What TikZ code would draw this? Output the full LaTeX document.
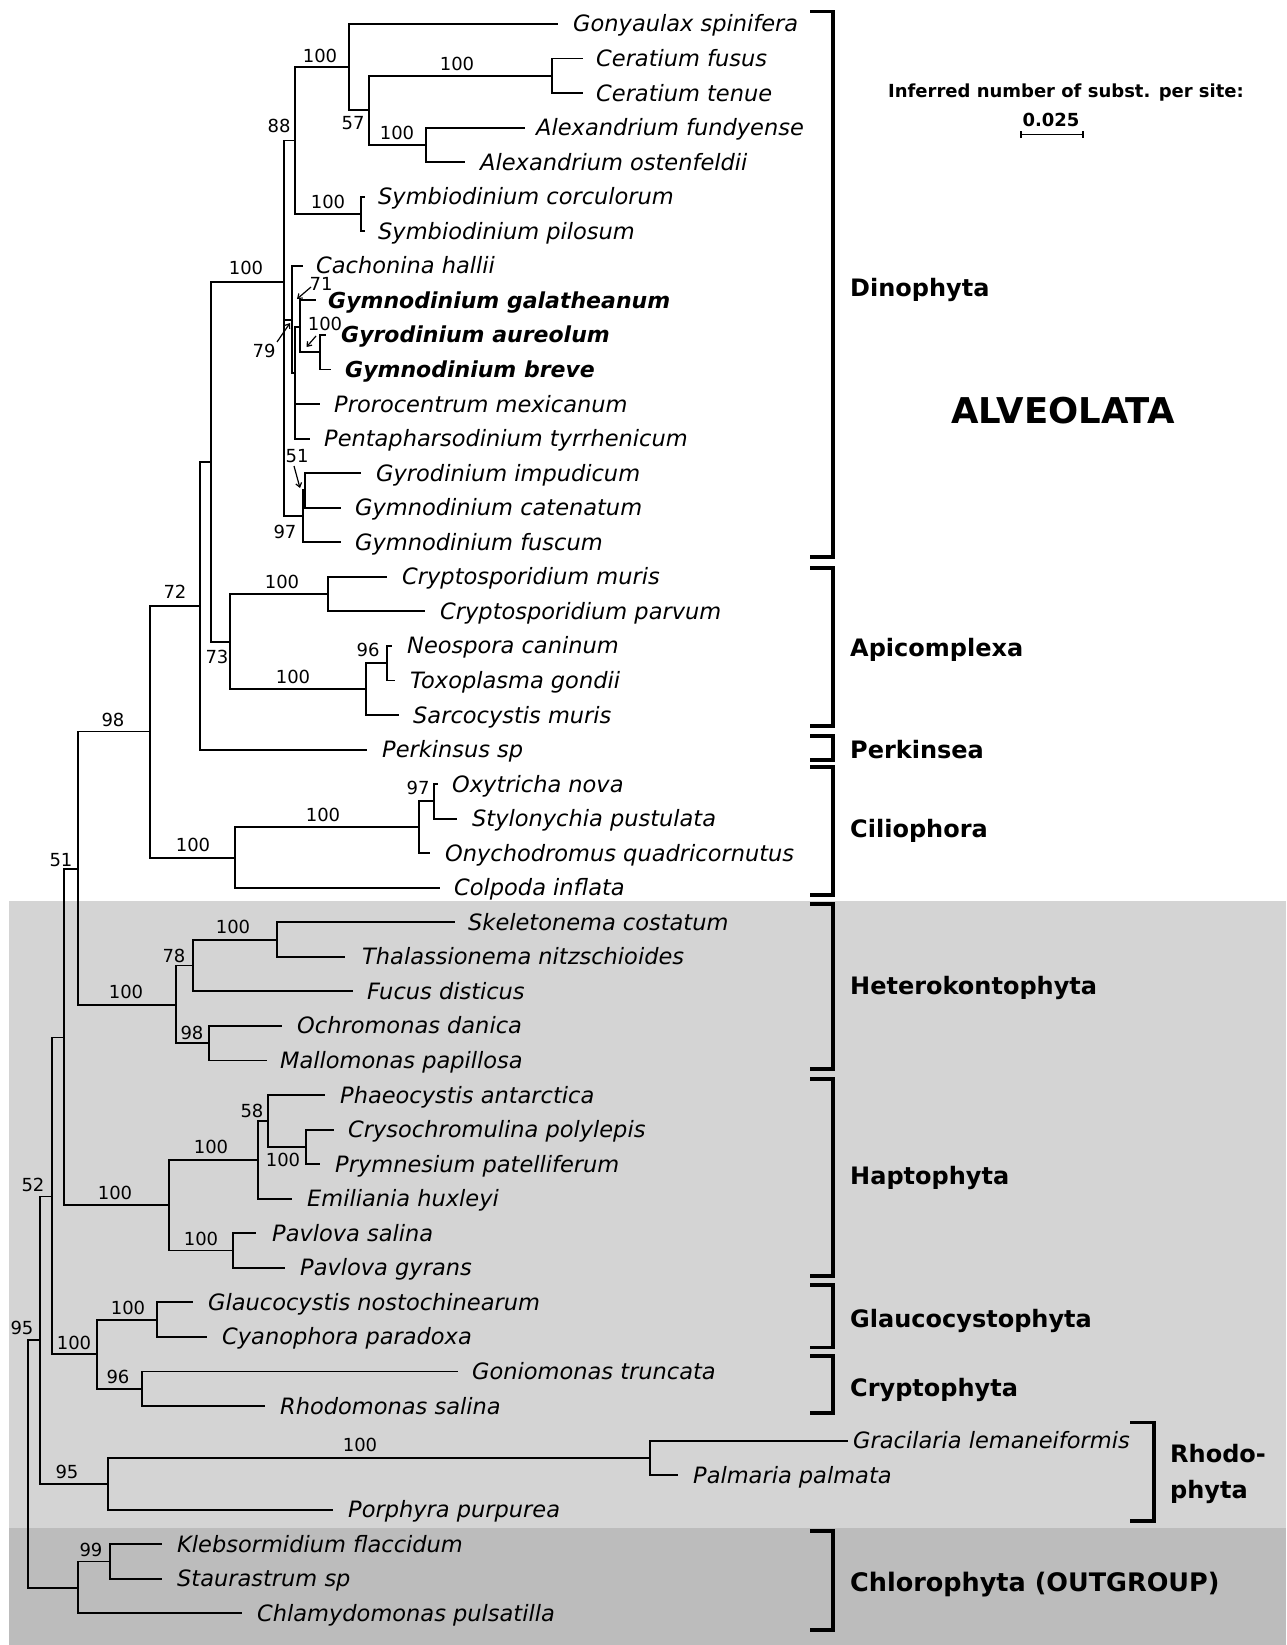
\documentclass[tikz,border=0pt]{standalone}
\usepackage{fontspec}
\usetikzlibrary{arrows.meta}
\newfontfamily\dv{DejaVu Sans}
\definecolor{lightg}{RGB}{212,212,212}
\definecolor{darkg}{RGB}{188,188,188}
\tikzset{
  br/.style={line width=1.9pt},
  brk/.style={line width=3.5pt},
  leaf/.style={font=\dv\itshape\fontsize{22.5}{26}\selectfont, inner sep=0pt, anchor=base west},
  bleaf/.style={font=\dv\bfseries\itshape\fontsize{22}{26}\selectfont, inner sep=0pt, anchor=base west},
  bs/.style={font=\dv\fontsize{18}{20}\selectfont, inner sep=0pt},
  grp/.style={font=\dv\bfseries\fontsize{24}{28}\selectfont, inner sep=0pt, anchor=base west},
  arr/.style={line width=1.2pt, -{Straight Barb[length=4pt,width=6pt,line width=1.2pt]}},
}
\newcommand{\myleaf}[6]{\coordinate (l#1) at (#2,#3); \node[#5] (t#1) at (#4,#3+8) {#6};}
\begin{document}
\begin{tikzpicture}[x=1pt,y=-1pt]
\useasboundingbox (0,0) rectangle (1286,1645);
\fill[white] (0,0) rectangle (1286,1645);
\fill[lightg] (9,901) rectangle (1286,1645);
\fill[darkg] (9,1528) rectangle (1286,1645);

% leaves: name, line end x, y, text x, style, text
\myleaf{0}{558}{24}{573}{leaf}{Gonyaulax spinifera}
\myleaf{1}{583}{58.55}{596}{leaf}{Ceratium fusus}
\myleaf{2}{583}{93.1}{596}{leaf}{Ceratium tenue}
\myleaf{3}{525}{127.65}{536}{leaf}{Alexandrium fundyense}
\myleaf{4}{465}{162.2}{480}{leaf}{Alexandrium ostenfeldii}
\myleaf{5}{365}{196.75}{378}{leaf}{Symbiodinium corculorum}
\myleaf{6}{365}{231.3}{378}{leaf}{Symbiodinium pilosum}
\myleaf{7}{303}{265.85}{316}{leaf}{Cachonina hallii}
\myleaf{8}{316}{300.4}{328}{bleaf}{Gymnodinium galatheanum}
\myleaf{9}{326}{334.95}{341}{bleaf}{Gyrodinium aureolum}
\myleaf{10}{331}{369.5}{345}{bleaf}{Gymnodinium breve}
\myleaf{11}{320}{404.05}{334}{leaf}{Prorocentrum mexicanum}
\myleaf{12}{310}{438.6}{324}{leaf}{Pentapharsodinium tyrrhenicum}
\myleaf{13}{361}{473.15}{376}{leaf}{Gyrodinium impudicum}
\myleaf{14}{341}{507.7}{355}{leaf}{Gymnodinium catenatum}
\myleaf{15}{341}{542.25}{355}{leaf}{Gymnodinium fuscum}
\myleaf{16}{387}{576.8}{402}{leaf}{Cryptosporidium muris}
\myleaf{17}{425}{611.35}{440}{leaf}{Cryptosporidium parvum}
\myleaf{18}{392}{645.9}{407}{leaf}{Neospora caninum}
\myleaf{19}{395}{680.45}{410}{leaf}{Toxoplasma gondii}
\myleaf{20}{399}{715}{413}{leaf}{Sarcocystis muris}
\myleaf{21}{367}{749.55}{382}{leaf}{Perkinsus sp}
\myleaf{22}{438}{784.1}{452}{leaf}{Oxytricha nova}
\myleaf{23}{457}{818.65}{472}{leaf}{Stylonychia pustulata}
\myleaf{24}{430}{853.2}{445}{leaf}{Onychodromus quadricornutus}
\myleaf{25}{440}{887.75}{454}{leaf}{Colpoda inflata}
\myleaf{26}{455}{922.3}{468}{leaf}{Skeletonema costatum}
\myleaf{27}{345}{956.85}{362}{leaf}{Thalassionema nitzschioides}
\myleaf{28}{353}{991.4}{367}{leaf}{Fucus disticus}
\myleaf{29}{282}{1025.95}{297}{leaf}{Ochromonas danica}
\myleaf{30}{267}{1060.5}{280}{leaf}{Mallomonas papillosa}
\myleaf{31}{325}{1095.05}{340}{leaf}{Phaeocystis antarctica}
\myleaf{32}{334}{1129.6}{348}{leaf}{Crysochromulina polylepis}
\myleaf{33}{320}{1164.15}{335}{leaf}{Prymnesium patelliferum}
\myleaf{34}{292}{1198.7}{307}{leaf}{Emiliania huxleyi}
\myleaf{35}{256}{1233.25}{272}{leaf}{Pavlova salina}
\myleaf{36}{285}{1267.8}{300}{leaf}{Pavlova gyrans}
\myleaf{37}{193}{1302.35}{208}{leaf}{Glaucocystis nostochinearum}
\myleaf{38}{207}{1336.9}{222}{leaf}{Cyanophora paradoxa}
\myleaf{39}{458}{1371.45}{472}{leaf}{Goniomonas truncata}
\myleaf{40}{265}{1406}{280}{leaf}{Rhodomonas salina}
\myleaf{41}{848}{1440.55}{853}{leaf}{Gracilaria lemaneiformis}
\myleaf{42}{678}{1475.1}{693}{leaf}{Palmaria palmata}
\myleaf{43}{333}{1509.65}{348}{leaf}{Porphyra purpurea}
\myleaf{44}{162}{1544.2}{177}{leaf}{Klebsormidium flaccidum}
\myleaf{45}{162}{1578.75}{177}{leaf}{Staurastrum sp}
\myleaf{46}{242}{1613.3}{257}{leaf}{Chlamydomonas pulsatilla}

% internal nodes (vertical x, stem y)
\coordinate (nA) at (349,67.2);
\coordinate (nB) at (369,110.4);
\coordinate (nCer) at (552,75.9);
\coordinate (nAlex) at (426,144.9);
\coordinate (nSym) at (361,214);
\coordinate (n88) at (295,140.5);
\coordinate (nDin) at (284,282);
\coordinate (n79) at (292,320);
\coordinate (nP) at (295,373);
\coordinate (n71) at (300,327);
\coordinate (nGB) at (320,352.2);
\coordinate (n97) at (303,516.3);
\coordinate (n51) at (305,490.4);
\coordinate (nDA) at (211,461.8);
\coordinate (nApi) at (230,641.6);
\coordinate (nCry) at (328,594.1);
\coordinate (nSar) at (366,689.1);
\coordinate (n96) at (387,663.2);
\coordinate (n72) at (200,605.7);
\coordinate (n98) at (150,731.5);
\coordinate (nCil) at (235,857.6);
\coordinate (nOSO) at (419,827.1);
\coordinate (n97c) at (434,801.4);
\coordinate (n51r) at (78,869);
\coordinate (nHet) at (176,1005);
\coordinate (n78) at (193,965.5);
\coordinate (nST) at (277,939.6);
\coordinate (n98h) at (209,1043.2);
\coordinate (nA64) at (64,1037.5);
\coordinate (nHap) at (169,1205.4);
\coordinate (n100h) at (258,1160.1);
\coordinate (n58) at (268,1121);
\coordinate (nCP) at (306,1146.9);
\coordinate (nPav) at (233,1250.5);
\coordinate (n52) at (52,1196.5);
\coordinate (nGC) at (97,1354.3);
\coordinate (nGl) at (157,1319.6);
\coordinate (nCr) at (142,1388.7);
\coordinate (n95) at (40,1340);
\coordinate (nRh) at (108,1483.7);
\coordinate (nGP) at (650,1457.8);
\coordinate (root) at (28,1464);
\coordinate (nChl) at (78,1587.8);
\coordinate (n99) at (110,1561.5);

% edges
\draw[br] (nA) |- (l0);  \draw[br] (nA) |- (nB);
\draw[br] (nB) |- (nCer); \draw[br] (nB) |- (nAlex);
\draw[br] (nCer) |- (l1); \draw[br] (nCer) |- (l2);
\draw[br] (nAlex) |- (l3); \draw[br] (nAlex) |- (l4);
\draw[br] (nSym) |- (l5); \draw[br] (nSym) |- (l6);
\draw[br] (n88) |- (nA); \draw[br] (n88) |- (nSym);
\draw[br] (nDin) |- (n88); \draw[br] (nDin) |- (n79); \draw[br] (nDin) |- (n97);
\draw[br] (n79) |- (l7); \draw[br] (n79) |- (nP);
\draw[br] (nP) |- (n71); \draw[br] (nP) |- (l11); \draw[br] (nP) |- (l12);
\draw[br] (n71) |- (l8); \draw[br] (n71) |- (nGB);
\draw[br] (nGB) |- (l9); \draw[br] (nGB) |- (l10);
\draw[br] (n97) |- (n51); \draw[br] (n97) |- (l15);
\draw[br] (n51) |- (l13); \draw[br] (n51) |- (l14);
\draw[br] (nDA) |- (nDin); \draw[br] (nDA) |- (nApi);
\draw[br] (nApi) |- (nCry); \draw[br] (nApi) |- (nSar);
\draw[br] (nCry) |- (l16); \draw[br] (nCry) |- (l17);
\draw[br] (nSar) |- (n96); \draw[br] (nSar) |- (l20);
\draw[br] (n96) |- (l18); \draw[br] (n96) |- (l19);
\draw[br] (n72) |- (nDA); \draw[br] (n72) |- (l21);
\draw[br] (n98) |- (n72); \draw[br] (n98) |- (nCil);
\draw[br] (nCil) |- (nOSO); \draw[br] (nCil) |- (l25);
\draw[br] (nOSO) |- (n97c); \draw[br] (nOSO) |- (l24);
\draw[br] (n97c) |- (l22); \draw[br] (n97c) |- (l23);
\draw[br] (n51r) |- (n98); \draw[br] (n51r) |- (nHet);
\draw[br] (nHet) |- (n78); \draw[br] (nHet) |- (n98h);
\draw[br] (n78) |- (nST); \draw[br] (n78) |- (l28);
\draw[br] (nST) |- (l26); \draw[br] (nST) |- (l27);
\draw[br] (n98h) |- (l29); \draw[br] (n98h) |- (l30);
\draw[br] (nA64) |- (n51r); \draw[br] (nA64) |- (nHap);
\draw[br] (nHap) |- (n100h); \draw[br] (nHap) |- (nPav);
\draw[br] (n100h) |- (n58); \draw[br] (n100h) |- (l34);
\draw[br] (n58) |- (l31); \draw[br] (n58) |- (nCP);
\draw[br] (nCP) |- (l32); \draw[br] (nCP) |- (l33);
\draw[br] (nPav) |- (l35); \draw[br] (nPav) |- (l36);
\draw[br] (n52) |- (nA64); \draw[br] (n52) |- (nGC);
\draw[br] (nGC) |- (nGl); \draw[br] (nGC) |- (nCr);
\draw[br] (nGl) |- (l37); \draw[br] (nGl) |- (l38);
\draw[br] (nCr) |- (l39); \draw[br] (nCr) |- (l40);
\draw[br] (n95) |- (n52); \draw[br] (n95) |- (nRh);
\draw[br] (nRh) |- (nGP); \draw[br] (nRh) |- (l43);
\draw[br] (nGP) |- (l41); \draw[br] (nGP) |- (l42);
\draw[br] (root) |- (n95); \draw[br] (root) |- (nChl);
\draw[br] (nChl) |- (n99); \draw[br] (nChl) |- (l46);
\draw[br] (n99) |- (l44); \draw[br] (n99) |- (l45);

% bootstrap values
\node[bs] (b01) at (320,56) {100};
\node[bs] (b02) at (457,64) {100};
\node[bs] (b03) at (353,123) {57};
\node[bs] (b04) at (397,133) {100};
\node[bs] (b05) at (279,126) {88};
\node[bs] (b06) at (328,202) {100};
\node[bs] (b07) at (246,268) {100};
\node[bs] (b08) at (321,284) {71};
\node[bs] (b09) at (325,324) {100};
\node[bs] (b10) at (264,351) {79};
\node[bs] (b11) at (297,456) {51};
\node[bs] (b12) at (285,532) {97};
\node[bs] (b13) at (282,582) {100};
\node[bs] (b14) at (217,657) {73};
\node[bs] (b15) at (368,650) {96};
\node[bs] (b16) at (293,677) {100};
\node[bs] (b17) at (175,592) {72};
\node[bs] (b18) at (113,720) {98};
\node[bs] (b19) at (193,845) {100};
\node[bs] (b20) at (323,815) {100};
\node[bs] (b21) at (418,788) {97};
\node[bs] (b22) at (61,860) {51};
\node[bs] (b23) at (126,992) {100};
\node[bs] (b24) at (174,956) {78};
\node[bs] (b25) at (233,927) {100};
\node[bs] (b26) at (192,1033) {98};
\node[bs] (b27) at (33,1185) {52};
\node[bs] (b28) at (115,1193) {100};
\node[bs] (b29) at (211,1147) {100};
\node[bs] (b30) at (252,1111) {58};
\node[bs] (b31) at (283,1160) {100};
\node[bs] (b32) at (201,1239) {100};
\node[bs] (b33) at (22,1328) {95};
\node[bs] (b34) at (74,1343) {100};
\node[bs] (b35) at (128,1308) {100};
\node[bs] (b36) at (118,1377) {96};
\node[bs] (b37) at (67,1472) {95};
\node[bs] (b38) at (360,1445) {100};
\node[bs] (b39) at (91,1550) {99};

% small pointer arrows
\coordinate (a71s) at (311,287); \coordinate (a71e) at (297,299);
\coordinate (a100s) at (316,336); \coordinate (a100e) at (306.5,347);
\coordinate (a79s) at (277,342); \coordinate (a79e) at (290,323);
\coordinate (a51s) at (294,466); \coordinate (a51e) at (300,488);
\draw[arr] (a71s) -- (a71e);
\draw[arr] (a100s) -- (a100e);
\draw[arr] (a79s) -- (a79e);
\draw[arr] (a51s) -- (a51e);

% group brackets
\draw[brk] (810,11.4) -- (833,11.4) -- (833,557) -- (810,557);
\draw[brk] (810,568) -- (833,568) -- (833,726) -- (810,726);
\draw[brk] (810,736) -- (833,736) -- (833,760) -- (810,760);
\draw[brk] (810,767) -- (833,767) -- (833,895) -- (810,895);
\draw[brk] (810,904) -- (833,904) -- (833,1069) -- (810,1069);
\draw[brk] (810,1079) -- (833,1079) -- (833,1276) -- (810,1276);
\draw[brk] (810,1285) -- (833,1285) -- (833,1347.5) -- (810,1347.5);
\draw[brk] (810,1356) -- (833,1356) -- (833,1413) -- (810,1413);
\draw[brk] (1130,1422.5) -- (1154,1422.5) -- (1154,1521) -- (1130,1521);
\draw[brk] (810,1531) -- (833,1531) -- (833,1630) -- (810,1630);

\node[grp] (g1) at (850,296.75) {Dinophyta};
\node[grp] (g2) at (850,656.75) {Apicomplexa};
\node[grp] (g3) at (850,758.75) {Perkinsea};
\node[grp] (g4) at (850,837.75) {Ciliophora};
\node[grp] (g5) at (850,994.75) {Heterokontophyta};
\node[grp] (g6) at (850,1184.75) {Haptophyta};
\node[grp] (g7) at (850,1327.75) {Glaucocystophyta};
\node[grp] (g8) at (850,1396.75) {Cryptophyta};
\node[grp] (g9) at (1170,1462.75) {Rhodo-};
\node[grp] (g10) at (1170,1498.75) {phyta};
\node[grp, font=\dv\bfseries\fontsize{25.5}{28}\selectfont] (g11) at (850,1591.3) {Chlorophyta (OUTGROUP)};
\node[font=\dv\bfseries\fontsize{35.5}{40}\selectfont, inner sep=0pt] (alv) at (1063,411) {ALVEOLATA};

% scale
\node[font=\dv\bfseries\fontsize{18}{20}\selectfont, inner sep=0pt] (sc1) at (1066,93) {Inferred number of subst. per site:};
\node[font=\dv\bfseries\fontsize{18}{20}\selectfont, inner sep=0pt] (sc2) at (1051,119.5) {0.025};
\coordinate (sbl) at (1021,134.5); \coordinate (sbr) at (1083,134.5);
\draw[line width=1.6pt] (sbl) -- (sbr);
\draw[line width=1.6pt] ([yshift=-3.5pt]sbl) -- ([yshift=3.5pt]sbl);
\draw[line width=1.6pt] ([yshift=-3.5pt]sbr) -- ([yshift=3.5pt]sbr);
\end{tikzpicture}
\end{document}
